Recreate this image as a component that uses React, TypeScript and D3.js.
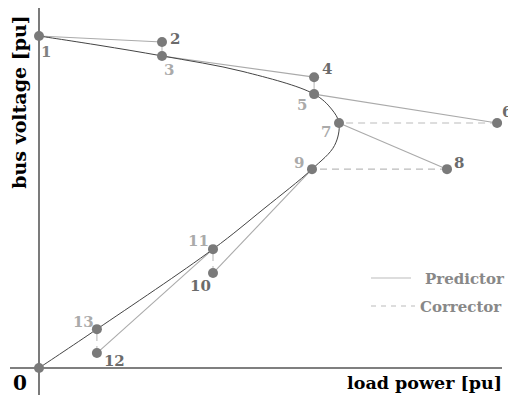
import React from "react";
import * as d3 from "d3";

// Continuation power flow steps (load power [pu], bus voltage [pu])
const stepIds = ["1", "2", "3", "4", "5", "6", "7", "8", "9", "10", "11", "12", "13"];
const stepP = [0, 0.41, 0.41, 0.917, 0.917, 1.527, 1.0, 1.36, 0.91, 0.58, 0.58, 0.193, 0.193];
const stepV = [1.0, 0.982, 0.94, 0.876, 0.825, 0.738, 0.738, 0.599, 0.599, 0.286, 0.358, 0.045, 0.117];
const stepKind = ["start", "pred", "corr", "pred", "corr", "pred", "corr", "pred", "corr", "pred", "corr", "pred", "corr"];

// PV (nose) curve samples
const curveP = [0, 0.2, 0.41, 0.68, 0.917, 0.975, 1.0, 0.985, 0.91, 0.75, 0.58, 0.193, 0];
const curveV = [1.0, 0.972, 0.94, 0.893, 0.825, 0.78, 0.738, 0.67, 0.599, 0.48, 0.358, 0.117, 0];

// label offsets are layout (not data)
const labelOffsets: Record<string, [number, number]> = {
  "1": [2, 21], "2": [8, 2], "3": [2, 19], "4": [8, -3], "5": [-17, 16],
  "6": [5, -6], "7": [-18, 14], "8": [7, -1], "9": [-18, -1], "10": [-23, 18],
  "11": [-25, -3], "12": [7, 13], "13": [-24, -2],
};

const SERIF = "DejaVu Serif";

export default function App() {
  const W = 508, H = 397;
  const x = d3.scaleLinear().domain([0, 1]).range([39, 339]);
  const y = d3.scaleLinear().domain([0, 1]).range([368, 36]);

  const curvePts: [number, number][] = curveP.map((p, i) => [x(p), y(curveV[i])]);
  const curvePath = d3.line().curve(d3.curveCatmullRom.alpha(0.5))(curvePts) || "";

  const segs: { a: number; b: number; dashed: boolean }[] = [];
  for (let i = 0; i < stepIds.length - 1; i++) {
    const kindNext = stepKind[i + 1];
    if (kindNext === "pred") segs.push({ a: i, b: i + 1, dashed: false });
    else segs.push({ a: i, b: i + 1, dashed: i + 1 >= 6 });
  }

  const labelColor = (k: string) => (k === "corr" ? "#aaaaaa" : k === "pred" ? "#6b6b6b" : "#808080");

  return (
    <svg width={W} height={H} style={{ position: "absolute", left: 0, top: 0, fontFamily: SERIF }}>
      <rect width={W} height={H} fill="#fff" />
      {/* axes */}
      <line x1={10} x2={502} y1={368} y2={368} stroke="#555" strokeWidth={1.6} />
      <line x1={39} x2={39} y1={8} y2={395} stroke="#333" strokeWidth={1.3} />

      {/* predictor / corrector segments */}
      {segs.map((s, i) => (
        <line key={i}
          x1={x(stepP[s.a])} y1={y(stepV[s.a])}
          x2={x(stepP[s.b])} y2={y(stepV[s.b])}
          stroke={stepKind[s.b] === "pred" ? "#aaaaaa" : "#bbbbbb"}
          strokeWidth={1.1}
          strokeDasharray={s.dashed ? "7,5" : undefined} />
      ))}

      {/* PV curve */}
      <path d={curvePath} fill="none" stroke="#444" strokeWidth={1} />

      {/* points */}
      {stepIds.map((id, i) => (
        <circle key={id} cx={x(stepP[i])} cy={y(stepV[i])} r={5} fill="#7a7a7a" />
      ))}
      <circle cx={x(0)} cy={y(0)} r={5} fill="#7a7a7a" />

      {/* point labels */}
      {stepIds.map((id, i) => (
        <text key={"l" + id} x={x(stepP[i]) + labelOffsets[id][0]} y={y(stepV[i]) + labelOffsets[id][1]}
          fontSize={15} fontWeight="bold" fill={labelColor(stepKind[i])} fontFamily={SERIF}>{id}</text>
      ))}

      {/* legend */}
      <line x1={371} x2={411} y1={278} y2={278} stroke="#bbb" strokeWidth={1.2} />
      <text x={425} y={284} fontSize={15} fontWeight="bold" fill="#888" fontFamily={SERIF}>Predictor</text>
      <line x1={371} x2={415} y1={306} y2={306} stroke="#bbb" strokeWidth={1.2} strokeDasharray="5,5" />
      <text x={420} y={312} fontSize={15} fontWeight="bold" fill="#888" fontFamily={SERIF}>Corrector</text>

      {/* axis labels */}
      <text x={502} y={389} textAnchor="end" fontSize={17.5} fontWeight="bold" fill="#000" fontFamily={SERIF}>load power [pu]</text>
      <text x={13} y={390} fontSize={20} fontWeight="bold" fill="#000" fontFamily={SERIF}>0</text>
      <text transform="translate(26,102) rotate(-90)" textAnchor="middle" fontSize={19} fontWeight="bold" fill="#000" fontFamily={SERIF}>bus voltage [pu]</text>
    </svg>
  );
}
